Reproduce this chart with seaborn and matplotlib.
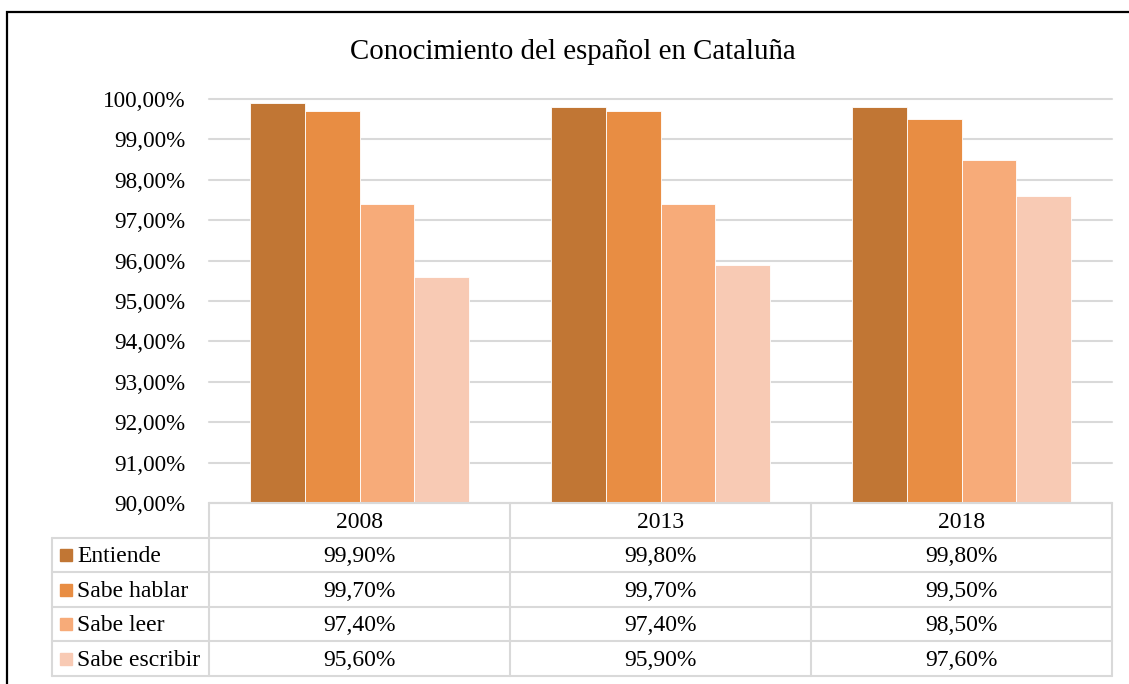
import matplotlib
matplotlib.use('Agg')
import matplotlib.pyplot as plt
import seaborn as sns
import pandas as pd
from matplotlib.ticker import FuncFormatter, MultipleLocator
from matplotlib.patches import Rectangle

# data
years = ['2008', '2013', '2018']
series = ['Entiende', 'Sabe hablar', 'Sabe leer', 'Sabe escribir']
entiende = [99.9, 99.8, 99.8]
sabe_hablar = [99.7, 99.7, 99.5]
sabe_leer = [97.4, 97.4, 98.5]
sabe_escribir = [95.6, 95.9, 97.6]
colors = ['#C17634', '#E88D43', '#F7AB79', '#F8CAB4']
title = 'Conocimiento del español en Cataluña'

values = [entiende, sabe_hablar, sabe_leer, sabe_escribir]
df = pd.DataFrame([{'year': y, 'serie': s, 'valor': v[i]}
                   for s, v in zip(series, values)
                   for i, y in enumerate(years)])

sns.set_style('white')
plt.rcParams['font.family'] = ['Liberation Serif', 'DejaVu Serif']
plt.rcParams['text.color'] = 'black'
plt.rcParams['ytick.color'] = 'black'
plt.rcParams['ytick.labelcolor'] = 'black'

W, H = 1129, 684
fig = plt.figure(figsize=(W / 100, H / 100), dpi=100)


def box(x0, y0, x1, y1):
    # pixel box -> figure fraction
    return [x0 / W, 1 - y1 / H, (x1 - x0) / W, (y1 - y0) / H]


def pct(v):
    return f'{v:.2f}%'.replace('.', ',')


grid_col = '#D9D9D9'
fs = 17

# bar chart
ax = fig.add_axes(box(209, 99, 1112, 503))
sns.barplot(data=df, x='year', y='valor', hue='serie', palette=colors,
            width=0.725, saturation=1, edgecolor='white', linewidth=0.6,
            legend=False, ax=ax, zorder=2)
ax.set_xlim(-0.5, 2.5)
ax.set_ylim(90, 100)
ax.yaxis.set_major_locator(MultipleLocator(1))
ax.yaxis.set_major_formatter(FuncFormatter(lambda v, p: pct(v)))
ax.yaxis.grid(True, color=grid_col, lw=1.5)
ax.set_axisbelow(True)
for l in ax.get_ygridlines():
    l.set_clip_on(False)
ax.set_xticks([])
ax.set_xlabel('')
ax.set_ylabel('')
ax.tick_params(axis='y', length=0, pad=17, labelsize=16.7, labelcolor='black')
sns.despine(ax=ax, left=True, bottom=True)

# data table under the chart
x_left = -0.5 - 157 / 301
tax = fig.add_axes(box(52, 503, 1112, 676))
tax.set_xlim(x_left, 2.5)
tax.set_ylim(5, 0)
tax.axis('off')
lk = dict(color=grid_col, lw=1.5, clip_on=False)
tax.plot([-0.5, 2.5], [0, 0], **lk)
for r in range(1, 6):
    tax.plot([x_left, 2.5], [r, r], **lk)
tax.plot([x_left, x_left], [1, 5], **lk)
for xc in [-0.5, 0.5, 1.5, 2.5]:
    tax.plot([xc, xc], [0, 5], **lk)

for i, y in enumerate(years):
    tax.text(i, 0.57, y, ha='center', va='center', fontsize=fs)
for r, (s, v, c) in enumerate(zip(series, values, colors)):
    yc = r + 1.55
    tax.plot(x_left + 14 / 301, r + 1.5, marker='s', ms=8.6, color=c,
             mec=c, clip_on=False)
    tax.text(x_left + 25 / 301, yc, s, ha='left', va='center', fontsize=fs)
    for i in range(len(years)):
        tax.text(i, yc, pct(v[i]), ha='center', va='center', fontsize=fs)

fig.text(573 / W, 1 - 52 / H, title, ha='center', va='center', fontsize=20.8)

# outer chart border
fig.add_artist(Rectangle((7 / W, -0.1), 1.2, 1 - 12 / H + 0.1,
                         transform=fig.transFigure, fill=False,
                         ec='black', lw=1.6))

fig.savefig('out.png', dpi=100)
